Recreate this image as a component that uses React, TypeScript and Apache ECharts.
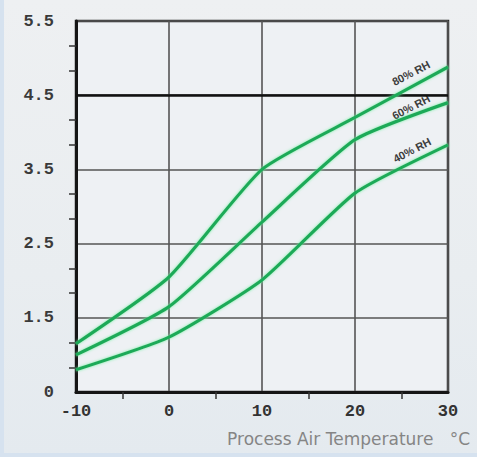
import React, { useEffect, useRef } from "react";
import * as echarts from "echarts";

// Temperature (°C)
const temps = [-10, 0, 10, 20, 30];
// Values read in the chart's label units (bottom gridline = 0.5, labelled "0")
const rh80 = [1.15, 2.05, 3.5, 4.2, 4.88];
const rh60 = [1.0, 1.65, 2.79, 3.9, 4.4];
const rh40 = [0.8, 1.24, 2.01, 3.18, 3.83];
const yTickLabels = ["0", "1.5", "2.5", "3.5", "4.5", "5.5"];
const seriesNames = ["80% RH", "60% RH", "40% RH"];
const OFFSET = 0.5; // bottom line of the grid sits at 0.5
const HIGHLIGHT = 4.5;

export default function App() {
  const ref = useRef<HTMLDivElement>(null);
  useEffect(() => {
    if (!ref.current) return;
    const chart = echarts.init(ref.current, undefined, { renderer: "svg" });
    const toData = (arr: number[]) => temps.map((t, i) => [t, arr[i] - OFFSET]);
    const lineSeries = (name: string, arr: number[], extra: any = {}) => ({
      name,
      type: "line",
      data: toData(arr),
      smooth: 0.18,
      symbol: "none",
      z: 5,
      lineStyle: {
        color: "#1faa58",
        width: 3.2,
        shadowColor: "rgba(110,240,160,0.9)",
        shadowBlur: 3,
      },
      ...extra,
    });
    const curveLabel = (text: string, x: number, y: number) => ({
      type: "text",
      x,
      y,
      rotation: 0.48,
      style: {
        text,
        fill: "#3c3c3c",
        font: "bold 11px 'Liberation Sans'",
        align: "center",
        verticalAlign: "middle",
      },
    });
    chart.setOption({
      animation: false,
      grid: {
        left: 76,
        right: 29,
        top: 21,
        bottom: 65,
        show: true,
        backgroundColor: "#eef1f4",
        borderColor: "#2a2a2a",
        borderWidth: 2.5,
      },
      xAxis: {
        type: "value",
        min: -10,
        max: 30,
        interval: 10,
        axisLine: { show: true, onZero: false, lineStyle: { color: "#151515", width: 3 } },
        axisTick: { show: false },
        minorTick: { show: true, splitNumber: 2, length: 7, lineStyle: { color: "#333", width: 1.5 } },
        splitLine: { show: true, lineStyle: { color: "#555", width: 1.6 } },
        axisLabel: {
          color: "#333",
          fontFamily: "Liberation Mono",
          fontWeight: "bold",
          fontSize: 17,
          margin: 11,
          showMinLabel: true,
          showMaxLabel: true,
          formatter: (v: number) => String(v),
        },
      },
      yAxis: {
        type: "value",
        min: 0,
        max: 5,
        interval: 1,
        axisLine: { show: true, onZero: false, lineStyle: { color: "#151515", width: 3 } },
        axisTick: { show: false },
        minorTick: { show: true, splitNumber: 3, length: 7, lineStyle: { color: "#333", width: 1.5 } },
        splitLine: { show: true, lineStyle: { color: "#555", width: 1.6 } },
        axisLabel: {
          color: "#3a3a3a",
          fontFamily: "Liberation Mono",
          fontWeight: "bold",
          fontSize: 17,
          margin: 22,
          formatter: (v: number) => yTickLabels[Math.round(v)] ?? "",
        },
      },
      series: [
        lineSeries(seriesNames[0], rh80, {
          markLine: {
            silent: true,
            symbol: "none",
            label: { show: false },
            lineStyle: { color: "#111", width: 2.6, type: "solid" },
            data: [{ yAxis: HIGHLIGHT - OFFSET }],
            z: 3,
          },
        }),
        lineSeries(seriesNames[1], rh60),
        lineSeries(seriesNames[2], rh40),
      ],
      graphic: [
        curveLabel(seriesNames[0], 411, 73),
        curveLabel(seriesNames[1], 411, 107),
        curveLabel(seriesNames[2], 412, 150),
        {
          type: "text",
          right: 7,
          top: 430,
          style: {
            text: "Process Air Temperature   °C",
            fill: "#858585",
            font: "17px 'DejaVu Sans'",
          },
        },
      ],
    });
    return () => chart.dispose();
  }, []);
  return (
    <div
      style={{
        position: "fixed",
        left: 0,
        top: 0,
        width: 477,
        height: 457,
        background: "linear-gradient(180deg, #eef0f2 0%, #e9edf0 60%, #e4eaef 100%)",
        boxShadow: "inset 4px -4px 0 #d6e2ef",
      }}
    >
      <div ref={ref} style={{ width: 477, height: 457 }} />
    </div>
  );
}
